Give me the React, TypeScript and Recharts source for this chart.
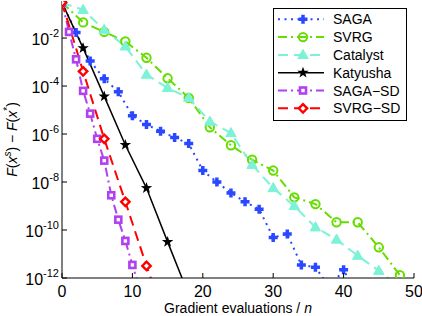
import React from 'react';
import { LineChart, Line, XAxis, YAxis, Legend } from 'recharts';

const FONT = '"Liberation Sans", Arial, Helvetica, sans-serif';

// ---- data ----
const sagaX = [0, 2, 4, 6, 8, 10, 12, 14, 16, 18, 20, 22, 24, 26, 28, 30, 32, 34, 36, 38, 40, 42];
const sagaY = [3.0e-1, 1.7e-2, 1.1e-3, 2.0e-4, 5.8e-5, 5.8e-6, 2.5e-6, 1.3e-6, 7.1e-7, 4.0e-7, 3.0e-8, 1.0e-8, 3.5e-9, 1.5e-9, 7.4e-10, 4.9e-11, 6.8e-11, 3.5e-12, 2.8e-12, 4.0e-13, 2.2e-12, 1.6e-13];

const svrgX = [0, 3, 6, 9, 12, 15, 18, 21, 24, 27, 30, 33, 36, 39, 42, 45, 48];
const svrgY = [3.0e-1, 4.5e-2, 1.8e-2, 7.2e-3, 1.5e-3, 2.1e-4, 3.2e-5, 1.9e-6, 3.4e-7, 8.5e-8, 3.0e-8, 2.3e-9, 1.2e-9, 2.1e-10, 2.1e-10, 1.9e-11, 1.3e-12];

const catalystX = [0, 3, 6, 9, 12, 15, 18, 21, 24, 27, 30, 33, 36, 39, 42, 45, 48];
const catalystY = [3.0e-1, 1.5e-1, 2.2e-2, 4.5e-3, 3.0e-4, 8.3e-5, 3.2e-5, 3.3e-6, 1.1e-6, 5.2e-8, 5.6e-9, 1.0e-9, 1.3e-10, 4.0e-11, 8.5e-12, 2.0e-12, 4.0e-13];

const katyushaX = [0, 3, 6, 9, 12, 15, 18];
const katyushaY = [3.0e-1, 3.8e-3, 3.7e-5, 3.5e-7, 5.6e-9, 3.2e-11, 2.0e-13];

const sagaSdX = [0, 1, 2, 3, 4, 5, 6, 7, 8, 9, 10, 11];
const sagaSdY = [3.0e-1, 1.8e-2, 1.3e-3, 6.3e-5, 7.1e-6, 6.3e-7, 7.8e-8, 2.8e-9, 2.7e-10, 3.5e-11, 3.5e-12, 4.0e-13];

const svrgSdX = [0, 3, 6, 9, 12, 15];
const svrgSdY = [3.0e-1, 4.1e-4, 6.3e-7, 1.5e-9, 3.2e-12, 1.0e-14];

const xTicks = [0, 10, 20, 30, 40, 50];
const yTicks = [1e-12, 1e-10, 1e-8, 1e-6, 1e-4, 1e-2];
const xDomain = [0, 50];
const yDomain = [1e-12, 0.35];

const toRows = (xs: number[], ys: number[]) => xs.map((x, i) => ({ x, y: ys[i] }));

type Marker = 'plus' | 'circle' | 'triangle' | 'star' | 'square' | 'diamond';

const SERIES: { name: string; data: { x: number; y: number }[]; color: string; dash?: string; width: number; marker: Marker }[] = [
  { name: 'SAGA', data: toRows(sagaX, sagaY), color: '#2a48ff', dash: '2 4.5', width: 2, marker: 'plus' },
  { name: 'SVRG', data: toRows(svrgX, svrgY), color: '#66dd00', dash: '9 4 2 4', width: 2, marker: 'circle' },
  { name: 'Catalyst', data: toRows(catalystX, catalystY), color: '#7cf2d6', dash: '10 6', width: 2, marker: 'triangle' },
  { name: 'Katyusha', data: toRows(katyushaX, katyushaY), color: '#000000', width: 1.5, marker: 'star' },
  { name: 'SAGA\u2212SD', data: toRows(sagaSdX, sagaSdY), color: '#b040f0', dash: '9 4 2 4', width: 2, marker: 'square' },
  { name: 'SVRG\u2212SD', data: toRows(svrgSdX, svrgSdY), color: '#ff0000', dash: '10 6', width: 2, marker: 'diamond' },
];

function starPoints(cx: number, cy: number, ro: number, ri: number) {
  const pts: string[] = [];
  for (let i = 0; i < 10; i++) {
    const r = i % 2 === 0 ? ro : ri;
    const a = -Math.PI / 2 + (i * Math.PI) / 5;
    pts.push(`${cx + r * Math.cos(a)},${cy + r * Math.sin(a)}`);
  }
  return pts.join(' ');
}

function MarkerShape({ kind, cx, cy, color }: { kind: Marker; cx: number; cy: number; color: string }) {
  switch (kind) {
    case 'plus':
      return (
        <path
          d={`M${cx - 1.75},${cy - 4.5}h3.5v2.75h2.75v3.5h-2.75v2.75h-3.5v-2.75h-2.75v-3.5h2.75z`}
          fill={color}
        />
      );
    case 'circle':
      return <circle cx={cx} cy={cy} r={4.2} fill="none" stroke={color} strokeWidth={2} />;
    case 'triangle':
      return <polygon points={`${cx},${cy - 5.5} ${cx + 5.2},${cy + 3.6} ${cx - 5.2},${cy + 3.6}`} fill={color} stroke={color} strokeWidth={1} />;
    case 'star':
      return <polygon points={starPoints(cx, cy, 6, 2.4)} fill={color} />;
    case 'square':
      return <rect x={cx - 3} y={cy - 3} width={6} height={6} fill="#fff" stroke={color} strokeWidth={2.6} />;
    case 'diamond':
      return <polygon points={`${cx},${cy - 4.2} ${cx + 4.2},${cy} ${cx},${cy + 4.2} ${cx - 4.2},${cy}`} fill="#fff" stroke={color} strokeWidth={2.4} />;
  }
  return null;
}

const makeDot = (kind: Marker, color: string) => (props: any) => {
  const { cx, cy, index } = props;
  if (cx == null || cy == null || !isFinite(cx) || !isFinite(cy)) return <g key={`d${index}`} />;
  return (
    <g key={`d${index}`}>
      <MarkerShape kind={kind} cx={cx} cy={cy} color={color} />
    </g>
  );
};

const TICK_LEN = 5;

const BottomTick = (props: any) => {
  const { x, y, payload } = props;
  return (
    <g>
      <line x1={x} x2={x} y1={y} y2={y - TICK_LEN} stroke="#000" strokeWidth={1} />
      <text x={x} y={y + 19} textAnchor="middle" fontSize={16} fontFamily={FONT} fill="#000">
        {payload.value}
      </text>
    </g>
  );
};

const TopTick = (props: any) => {
  const { x, y } = props;
  return <line x1={x} x2={x} y1={y} y2={y + TICK_LEN} stroke="#000" strokeWidth={1} />;
};

const LeftTick = (props: any) => {
  const { x, y, payload } = props;
  const e = Math.round(Math.log10(payload.value));
  return (
    <g>
      <line x1={x} x2={x + TICK_LEN} y1={y} y2={y} stroke="#000" strokeWidth={1} />
      <text x={x - 3} y={y + 7} textAnchor="end" fontSize={16} fontFamily={FONT} fill="#000">
        10
        <tspan dy={-8} fontSize={11}>{`-${-e}`}</tspan>
      </text>
    </g>
  );
};

const RightTick = (props: any) => {
  const { x, y } = props;
  return <line x1={x} x2={x - TICK_LEN} y1={y} y2={y} stroke="#000" strokeWidth={1} />;
};

const XLabel = (props: any) => {
  const vb = props.viewBox || {};
  const cx = vb.x + vb.width / 2;
  return (
    <text x={cx} y={313} textAnchor="middle" fontSize={14} fontFamily={FONT} fill="#000">
      Gradient evaluations / <tspan fontStyle="italic">n</tspan>
    </text>
  );
};

const YLabel = (props: any) => {
  const vb = props.viewBox || {};
  const cy = vb.y + vb.height / 2;
  const bx = 17;
  return (
    <text
      x={bx}
      y={cy}
      transform={`rotate(-90 ${bx} ${cy})`}
      textAnchor="middle"
      fontSize={14}
      fontFamily={FONT}
      fill="#000"
    >
      <tspan fontStyle="italic">F</tspan>
      <tspan>(</tspan>
      <tspan fontStyle="italic">x</tspan>
      <tspan dy={-6} fontSize={10} fontStyle="italic">s</tspan>
      <tspan dy={6}>) {'\u2212'} </tspan>
      <tspan fontStyle="italic">F</tspan>
      <tspan>(</tspan>
      <tspan fontStyle="italic">x</tspan>
      <tspan dy={-6} fontSize={10}>*</tspan>
      <tspan dy={6}>)</tspan>
    </text>
  );
};

const LEG_W = 134;
const LEG_H = 113;

const LegendBox = () => (
  <svg width={LEG_W} height={LEG_H} style={{ display: 'block' }}>
    <rect x={0.5} y={0.5} width={LEG_W - 1} height={LEG_H - 1} fill="#fff" stroke="#000" strokeWidth={1} />
    {SERIES.map((s, i) => {
      const cy = 11.3 + i * 17.8;
      return (
        <g key={s.name}>
          <line x1={5} x2={51} y1={cy} y2={cy} stroke={s.color} strokeWidth={s.width} strokeDasharray={s.dash} />
          <MarkerShape kind={s.marker} cx={30} cy={cy} color={s.color} />
          <text x={60} y={cy + 5} fontSize={14} fontFamily={FONT} fill="#000">
            {s.name}
          </text>
        </g>
      );
    })}
  </svg>
);

export default function App() {
  return (
    <div style={{ position: 'absolute', left: 0, top: 0, width: 422, height: 316, background: '#fff' }}>
      <LineChart width={422} height={316} margin={{ top: 1, right: 8, bottom: 0, left: 0 }}>
        <XAxis
          xAxisId={0}
          dataKey="x"
          type="number"
          domain={xDomain}
          ticks={xTicks}
          interval={0}
          tickSize={0}
          tickMargin={0}
          tickLine={false}
          tick={BottomTick}
          axisLine={{ stroke: '#000', strokeWidth: 1 }}
          height={38}
          allowDataOverflow
          label={<XLabel />}
        />
        <XAxis
          xAxisId="top"
          orientation="top"
          dataKey="x"
          type="number"
          domain={xDomain}
          ticks={xTicks}
          interval={0}
          tickSize={0}
          tickMargin={0}
          tickLine={false}
          tick={TopTick}
          axisLine={{ stroke: '#000', strokeWidth: 1 }}
          height={0}
          allowDataOverflow
        />
        <YAxis
          yAxisId={0}
          type="number"
          scale="log"
          domain={yDomain}
          ticks={yTicks}
          interval={0}
          tickSize={0}
          tickMargin={0}
          tickLine={false}
          tick={LeftTick}
          axisLine={{ stroke: '#000', strokeWidth: 1 }}
          width={62}
          allowDataOverflow
          label={<YLabel />}
        />
        <YAxis
          yAxisId="right"
          orientation="right"
          type="number"
          scale="log"
          domain={yDomain}
          ticks={yTicks}
          interval={0}
          tickSize={0}
          tickMargin={0}
          tickLine={false}
          tick={RightTick}
          axisLine={{ stroke: '#000', strokeWidth: 1 }}
          width={0}
          allowDataOverflow
        />
        <Legend
          layout="vertical"
          align="center"
          verticalAlign="middle"
          content={() => <LegendBox />}
          wrapperStyle={{ position: 'absolute', left: 273, top: 8, width: LEG_W, height: LEG_H }}
        />
        {SERIES.map((s) => (
          <Line
            key={s.name}
            name={s.name}
            data={s.data}
            dataKey="y"
            xAxisId={0}
            yAxisId={0}
            type="linear"
            stroke={s.color}
            strokeWidth={s.width}
            strokeDasharray={s.dash}
            dot={makeDot(s.marker, s.color)}
            activeDot={false}
            isAnimationActive={false}
          />
        ))}
      </LineChart>
    </div>
  );
}
